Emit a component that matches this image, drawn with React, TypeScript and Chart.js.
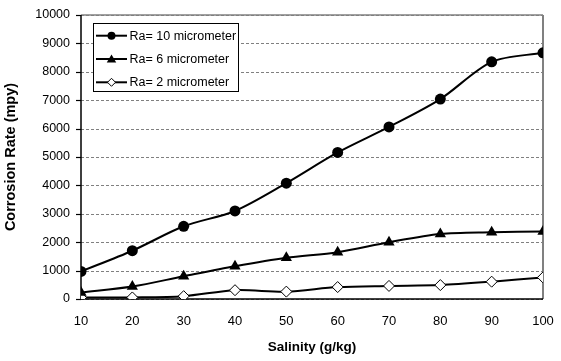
import React, { useEffect, useRef } from "react";
import { Chart, registerables } from "chart.js";

Chart.register(...registerables);

const salinity = [10, 20, 30, 40, 50, 60, 70, 80, 90, 100];
const ra10 = [970, 1700, 2560, 3100, 4080, 5160, 6060, 7040, 8350, 8670];
const ra6 = [230, 440, 800, 1150, 1450, 1650, 2000, 2290, 2350, 2380];
const ra2 = [50, 55, 100, 310, 260, 420, 460, 490, 610, 760];
const seriesLabels = ["Ra= 10 micrometer", "Ra= 6 micrometer", "Ra= 2 micrometer"];
const xTitle = "Salinity (g/kg)";
const yTitle = "Corrosion Rate (mpy)";

const FONT = "Arial, 'Liberation Sans', sans-serif";

function drawMarker(ctx: CanvasRenderingContext2D, kind: string, x: number, y: number, r: number) {
  ctx.save();
  ctx.beginPath();
  if (kind === "circle") {
    ctx.arc(x, y, r, 0, Math.PI * 2);
    ctx.fillStyle = "#000";
    ctx.fill();
  } else if (kind === "triangle") {
    ctx.moveTo(x, y - r);
    ctx.lineTo(x + r * 1.05, y + r * 0.75);
    ctx.lineTo(x - r * 1.05, y + r * 0.75);
    ctx.closePath();
    ctx.fillStyle = "#000";
    ctx.fill();
  } else {
    ctx.moveTo(x, y - r);
    ctx.lineTo(x + r, y);
    ctx.lineTo(x, y + r);
    ctx.lineTo(x - r, y);
    ctx.closePath();
    ctx.fillStyle = "#fff";
    ctx.fill();
    ctx.lineWidth = 1;
    ctx.strokeStyle = "#000";
    ctx.stroke();
  }
  ctx.restore();
}

const framePlugin = {
  id: "frame",
  beforeDatasetsDraw(chart: any) {
    const { ctx, chartArea } = chart;
    const { left, right, top, bottom } = chartArea;
    const yScale = chart.scales.y;
    ctx.save();
    for (const t of yScale.ticks) {
      const y = Math.round(yScale.getPixelForValue(t.value)) + 0.5;
      ctx.setLineDash([3, 2]);
      ctx.strokeStyle = "#808080";
      ctx.lineWidth = 1;
      ctx.beginPath();
      ctx.moveTo(left, y);
      ctx.lineTo(right, y);
      ctx.stroke();
      ctx.setLineDash([]);
      ctx.strokeStyle = "#000";
      ctx.lineWidth = 1.2;
      ctx.beginPath();
      ctx.moveTo(left - 5, y);
      ctx.lineTo(left, y);
      ctx.stroke();
    }
    ctx.setLineDash([]);
    ctx.strokeStyle = "#808080";
    ctx.lineWidth = 1.5;
    ctx.beginPath();
    ctx.moveTo(left, top);
    ctx.lineTo(right, top);
    ctx.stroke();
    ctx.lineWidth = 2;
    ctx.beginPath();
    ctx.moveTo(right, top);
    ctx.lineTo(right, bottom);
    ctx.stroke();
    ctx.strokeStyle = "#000";
    ctx.lineWidth = 1.5;
    ctx.beginPath();
    ctx.moveTo(left, top);
    ctx.lineTo(left, bottom);
    ctx.moveTo(left, bottom);
    ctx.lineTo(right, bottom);
    ctx.stroke();
    ctx.restore();
  },
};

const legendPlugin = {
  id: "boxLegend",
  afterDraw(chart: any) {
    const { ctx } = chart;
    const bx = 93.5, by = 23.5, bw = 145, bh = 68;
    ctx.save();
    ctx.setLineDash([]);
    ctx.fillStyle = "#fff";
    ctx.fillRect(bx, by, bw, bh);
    ctx.strokeStyle = "#000";
    ctx.lineWidth = 1;
    ctx.strokeRect(bx, by, bw, bh);
    const kinds = ["circle", "triangle", "diamond"];
    const rows = [35.7, 59, 82.3];
    ctx.font = `12.5px ${FONT}`;
    ctx.textBaseline = "middle";
    ctx.textAlign = "left";
    for (let i = 0; i < 3; i++) {
      const y = rows[i];
      ctx.strokeStyle = "#000";
      ctx.lineWidth = 2;
      ctx.beginPath();
      ctx.moveTo(96, y);
      ctx.lineTo(127, y);
      ctx.stroke();
      drawMarker(ctx, kinds[i], 111.5, y, kinds[i] === "triangle" ? 4.5 : 4);
      ctx.fillStyle = "#000";
      ctx.fillText(seriesLabels[i], 129.5, y + 0.5);
    }
    ctx.restore();
  },
};

export default function App() {
  const ref = useRef<HTMLCanvasElement | null>(null);
  useEffect(() => {
    document.body.style.margin = "0";
    const canvas = ref.current;
    if (!canvas) return;
    const mk = (vals: number[]) => vals.map((v, i) => ({ x: salinity[i], y: v }));
    const chart = new Chart(canvas, {
      type: "line",
      data: {
        datasets: [
          {
            label: seriesLabels[0],
            data: mk(ra10),
            borderColor: "#000",
            backgroundColor: "#000",
            borderWidth: 2,
            pointStyle: "circle",
            pointRadius: 5.5,
            pointBorderWidth: 0,
            tension: 0.3,
          },
          {
            label: seriesLabels[1],
            data: mk(ra6),
            borderColor: "#000",
            backgroundColor: "#000",
            borderWidth: 2,
            pointStyle: "triangle",
            pointRadius: 6.5,
            pointBorderWidth: 0,
            tension: 0.3,
          },
          {
            label: seriesLabels[2],
            data: mk(ra2),
            borderColor: "#000",
            backgroundColor: "#fff",
            borderWidth: 2,
            pointStyle: "rectRot",
            pointRadius: 5.5,
            pointBorderWidth: 1,
            pointBorderColor: "#000",
            pointBackgroundColor: "#fff",
            tension: 0.3,
          },
        ],
      },
      options: {
        animation: false,
        responsive: false,
        devicePixelRatio: 1,
        layout: { padding: { left: 0, top: 15, right: 18, bottom: 0 } },
        plugins: { legend: { display: false }, tooltip: { enabled: false } },
        scales: {
          x: {
            type: "linear",
            min: 10,
            max: 100,
            grid: { display: false, drawTicks: false },
            border: { display: false },
            ticks: {
              stepSize: 10,
              color: "#000",
              font: { family: FONT, size: 13 },
              padding: 15,
              maxRotation: 0,
              callback: (v: any) => String(v),
            },
            title: {
              display: true,
              text: xTitle,
              color: "#000",
              font: { family: FONT, size: 13.5, weight: "bold" },
              padding: { top: 0, bottom: 6 },
            },
            afterFit(scale: any) {
              scale.height = 62;
              scale.paddingLeft = 0;
              scale.paddingRight = 0;
            },
          },
          y: {
            min: 0,
            max: 10000,
            grid: { display: false, drawTicks: true, tickLength: 5 },
            border: { display: false },
            ticks: {
              stepSize: 1000,
              color: "#000",
              font: { family: FONT, size: 12.5 },
              padding: 6,
              callback: (v: any) => String(v),
            },
            title: {
              display: true,
              text: yTitle,
              color: "#000",
              font: { family: FONT, size: 14.5, weight: "bold" },
              padding: { top: 2, bottom: 0 },
            },
            afterFit(scale: any) {
              scale.width = 81;
              scale.paddingTop = 0;
              scale.paddingBottom = 0;
            },
          },
        },
      },
      plugins: [framePlugin, legendPlugin],
    } as any);
    return () => chart.destroy();
  }, []);
  return (
    <div style={{ width: 561, height: 361 }}>
      <canvas ref={ref} width={561} height={361} style={{ display: "block" }} />
    </div>
  );
}
